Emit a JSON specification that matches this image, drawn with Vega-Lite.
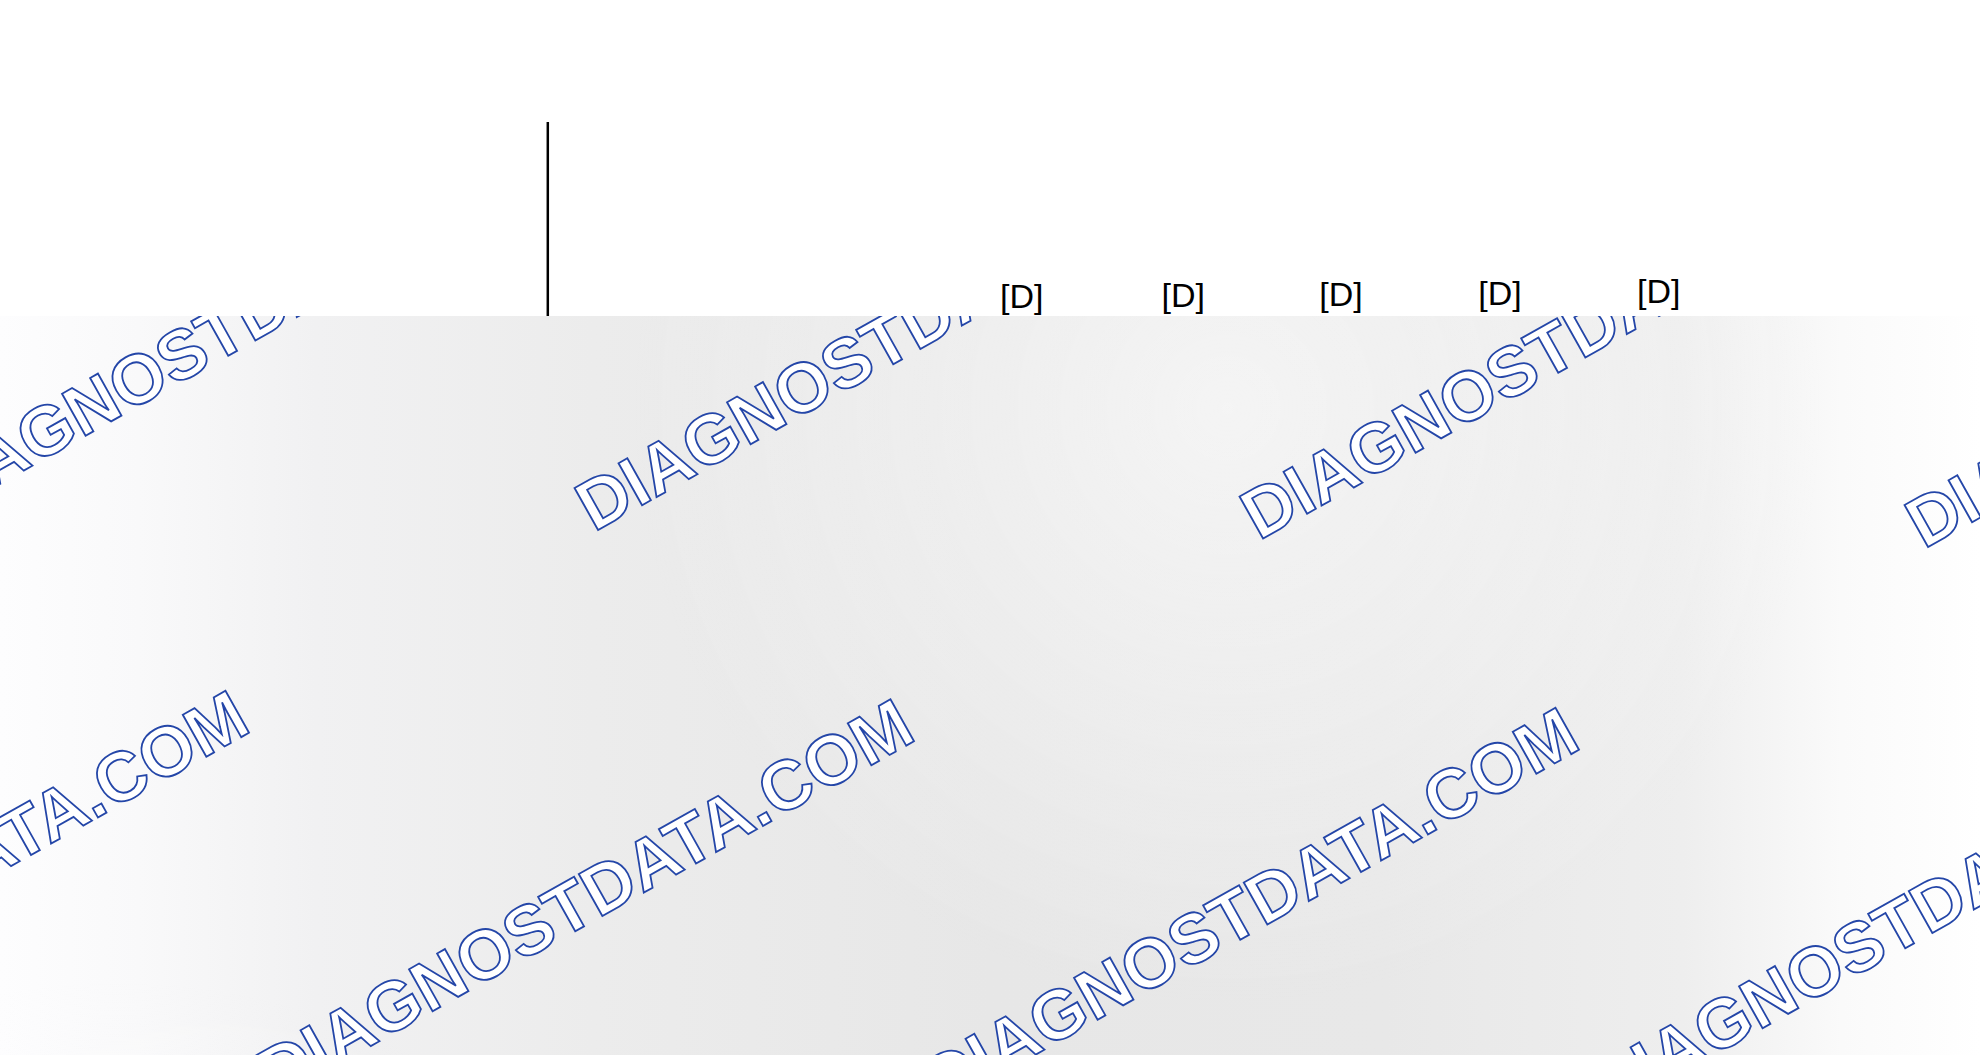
{
  "$schema": "https://vega.github.io/schema/vega-lite/v6.json",
  "background": "white",
  "padding": 0,
  "spacing": 0,
  "bounds": "flush",
  "config": {"view": {"stroke": null}, "axis": {"disable": true}},
  "datasets": {
    "bars": [
      {"cat": "c4", "x": 1021.7, "y": 307.7, "label": "[D]"},
      {"cat": "c5", "x": 1183.3, "y": 306.7, "label": "[D]"},
      {"cat": "c6", "x": 1341.0, "y": 305.5, "label": "[D]"},
      {"cat": "c7", "x": 1500.0, "y": 304.5, "label": "[D]"},
      {"cat": "c8", "x": 1658.8, "y": 303.3, "label": "[D]"}
    ],
    "divider": [{"x": 547.8, "y": 122, "y2": 316}],
    "overlay": [{"x": 0, "x2": 1980, "y": 316, "y2": 1055}],
    "watermark": [
      {"x": 250, "y": 343.5, "text": "DIAGNOSTDATA.COM"},
      {"x": 915, "y": 352, "text": "DIAGNOSTDATA.COM"},
      {"x": 1580, "y": 360.5, "text": "DIAGNOSTDATA.COM"},
      {"x": 2245, "y": 369, "text": "DIAGNOSTDATA.COM"},
      {"x": -68, "y": 910.5, "text": "DIAGNOSTDATA.COM"},
      {"x": 597, "y": 919, "text": "DIAGNOSTDATA.COM"},
      {"x": 1262, "y": 927.5, "text": "DIAGNOSTDATA.COM"},
      {"x": 1927, "y": 936, "text": "DIAGNOSTDATA.COM"}
    ]
  },
  "vconcat": [
    {
      "width": 1980,
      "height": 316,
      "layer": [
        {
          "data": {"name": "divider"},
          "mark": {"type": "rule", "color": "black", "strokeWidth": 2.5},
          "encoding": {
            "x": {"field": "x", "type": "quantitative", "scale": {"domain": [0, 1980], "nice": false, "zero": false}},
            "y": {"field": "y", "type": "quantitative", "scale": {"domain": [0, 316], "nice": false, "reverse": true}},
            "y2": {"field": "y2"}
          }
        },
        {
          "data": {"name": "bars"},
          "mark": {"type": "text", "font": "Arial, Liberation Sans, sans-serif", "fontSize": 34, "color": "black", "align": "center", "baseline": "alphabetic"},
          "encoding": {
            "x": {"field": "x", "type": "quantitative", "scale": {"domain": [0, 1980], "nice": false, "zero": false}},
            "y": {"field": "y", "type": "quantitative", "scale": {"domain": [0, 316], "nice": false, "reverse": true}},
            "text": {"field": "label"}
          }
        }
      ]
    },
    {
      "width": 1980,
      "height": 739,
      "encoding": {
        "x": {"field": "x", "type": "quantitative", "scale": {"domain": [0, 1980], "nice": false, "zero": false}},
        "y": {"field": "y", "type": "quantitative", "scale": {"domain": [316, 1055], "nice": false, "zero": false, "reverse": true}}
      },
      "layer": [
        {
          "data": {"name": "overlay"},
          "mark": {
            "type": "rect",
            "color": {
              "gradient": "linear",
              "x1": 0, "y1": 0, "x2": 1, "y2": 0,
              "stops": [
                {"offset": 0, "color": "#fdfdfe"},
                {"offset": 0.07, "color": "#f9f9fa"},
                {"offset": 0.16, "color": "#f1f1f2"},
                {"offset": 0.3, "color": "#ececec"},
                {"offset": 0.5, "color": "#e7e7e7"},
                {"offset": 0.7, "color": "#e8e8e8"},
                {"offset": 0.85, "color": "#eeeeee"},
                {"offset": 0.93, "color": "#fafafa"},
                {"offset": 1, "color": "#ffffff"}
              ]
            }
          },
          "encoding": {"x2": {"field": "x2"}, "y2": {"field": "y2"}}
        },
        {
          "data": {"name": "overlay"},
          "mark": {
            "type": "rect",
            "color": {
              "gradient": "radial",
              "x1": 0.62, "y1": 0.36, "r1": 0,
              "x2": 0.62, "y2": 0.36, "r2": 0.3,
              "stops": [
                {"offset": 0, "color": "rgba(255,255,255,0.55)"},
                {"offset": 1, "color": "rgba(255,255,255,0)"}
              ]
            }
          },
          "encoding": {"x2": {"field": "x2"}, "y2": {"field": "y2"}}
        },
        {
          "data": {"name": "overlay"},
          "mark": {
            "type": "rect",
            "color": {
              "gradient": "radial",
              "x1": 0.06, "y1": 0.97, "r1": 0,
              "x2": 0.06, "y2": 0.97, "r2": 0.32,
              "stops": [
                {"offset": 0, "color": "rgba(236,239,252,0.95)"},
                {"offset": 1, "color": "rgba(255,255,255,0)"}
              ]
            }
          },
          "encoding": {"x2": {"field": "x2"}, "y2": {"field": "y2"}}
        },
        {
          "data": {"name": "watermark"},
          "mark": {
            "type": "text",
            "clip": true,
            "font": "Arial, Liberation Sans, sans-serif",
            "fontWeight": "bold",
            "fontSize": 70,
            "angle": 330.7,
            "align": "center",
            "baseline": "alphabetic",
            "fill": "white",
            "stroke": "#2446a8",
            "strokeWidth": 1.8
          },
          "encoding": {"text": {"field": "text"}}
        }
      ]
    }
  ]
}
